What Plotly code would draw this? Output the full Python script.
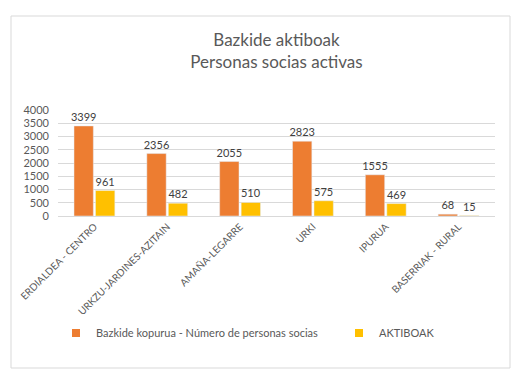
import plotly.graph_objects as go

categories = ["ERDIALDEA - CENTRO", "URKZU-JARDINES-AZITAIN", "AMAÑA-LEGARRE", "URKI", "IPURUA", "BASERRIAK - RURAL"]
bazkide = [3399, 2356, 2055, 2823, 1555, 68]
aktiboak = [961, 482, 510, 575, 469, 15]
series_names = ["Bazkide kopurua - Número de personas socias", "AKTIBOAK"]
colors = ["#ED7D31", "#FFC000"]
yticks = [0, 500, 1000, 1500, 2000, 2500, 3000, 3500, 4000]

FONT = "Lato"
fig = go.Figure()
for name, vals, col in zip(series_names, [bazkide, aktiboak], colors):
    fig.add_trace(go.Bar(x=categories, y=vals, name=name, showlegend=False,
                         marker_color=col, text=vals, textposition="outside",
                         constraintext="none",
                         textfont=dict(size=11, color="#404040"), cliponaxis=False))
# legend entries (small square swatches like the reference)
for i, (name, col) in enumerate(zip(series_names, colors)):
    fig.add_trace(go.Scatter(x=[None], y=[None], mode="markers", name=name,
                             marker=dict(symbol="square", size=8, color=col),
                             legend="legend" if i == 0 else "legend2"))

L, R, T, B = 58, 36, 110, 169
W, H = 531, 385
pw = W - L - R
ph = H - T - B
def px(x): return (x - L) / pw
def py(y): return (H - B - y) / ph

leg_common = dict(orientation="h", yanchor="middle", xanchor="left", bgcolor="rgba(0,0,0,0)",
                  itemwidth=30, font=dict(size=11, color="#595959"))
fig.update_layout(
    width=W, height=H,
    margin=dict(l=L, r=R, t=T, b=B, autoexpand=False),
    paper_bgcolor="white", plot_bgcolor="white",
    font=dict(family=FONT, color="#595959", size=10),
    barmode="group", bargap=0.41, bargroupgap=0.1,
    showlegend=True,
    legend=dict(x=px(56), y=py(333), **leg_common),
    legend2=dict(x=px(339), y=py(333), **leg_common),
    title=dict(text="Bazkide aktiboak<br>Personas socias activas", x=0.5, xref="paper",
               xanchor="center", y=1 - 46 / H, yanchor="middle",
               font=dict(size=17, color="#595959", family=FONT)),
    shapes=[dict(type="rect", xref="paper", yref="paper",
                 x0=px(11), x1=px(510), y0=py(368), y1=py(16),
                 line=dict(color="#D9D9D9", width=1), fillcolor="rgba(0,0,0,0)", layer="below")],
)
fig.update_xaxes(tickangle=-45, tickfont=dict(size=10, color="#595959"), automargin=False,
                 showline=True, linecolor="#D9D9D9", ticks="")
fig.update_yaxes(range=[0, 4000], tickvals=yticks, showgrid=True, gridcolor="#D9D9D9",
                 zeroline=False, tickfont=dict(size=11, color="#595959"), ticks="",
                 automargin=False, ticklabelstandoff=8)
fig.write_html("out.html", config={"displayModeBar": False},
               post_script="document.body.style.margin='0';")
